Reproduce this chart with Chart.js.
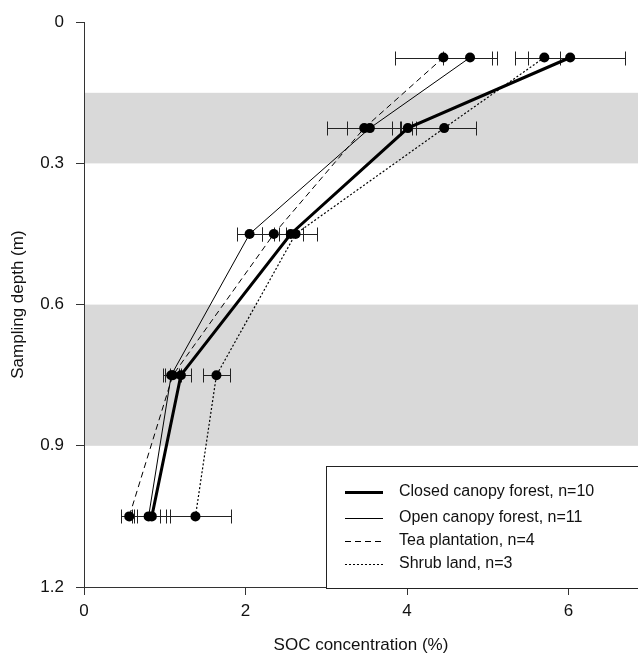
<!DOCTYPE html>
<html>
<head>
<meta charset="utf-8">
<script src="https://cdn.jsdelivr.net/npm/chart.js@4"></script>
<style>
  html, body { margin: 0; padding: 0; background: #fff; }
  #wrap { width: 638px; height: 660px; position: relative; }
</style>
</head>
<body>
<div id="wrap"><canvas id="c"></canvas></div>
<script>
// SOC concentration by sampling depth, four land uses, horizontal error bars
const depths = [0.075, 0.225, 0.45, 0.75, 1.05];

const closedMean = [6.02, 4.01, 2.56, 1.20, 0.84];
const closedErr  = [0.68, 0.10, 0.15, 0.13, 0.22];
const openMean   = [4.78, 3.54, 2.05, 1.08, 0.80];
const openErr    = [0.33, 0.28, 0.16, 0.10, 0.21];
const teaMean    = [4.45, 3.47, 2.35, 1.10, 0.56];
const teaErr     = [0.60, 0.46, 0.15, 0.10, 0.10];
const shrubMean  = [5.70, 4.46, 2.62, 1.64, 1.38];
const shrubErr   = [0.20, 0.40, 0.27, 0.17, 0.44];

const seriesLabels = ['Closed canopy forest, n=10', 'Open canopy forest, n=11', 'Tea plantation, n=4', 'Shrub land, n=3'];

const xTicks = [0, 2, 4, 6];
const yTicks = [0, 0.3, 0.6, 0.9, 1.2];
const bands = [[0.15, 0.3], [0.6, 0.9]];

const FONT = 'Arial, "Liberation Sans", sans-serif';

function pts(means) {
    return means.map((m, i) => ({ x: m, y: depths[i] }));
}

const styles = [
    { width: 3,   dash: [] },
    { width: 1,   dash: [] },
    { width: 1,   dash: [6, 4] },
    { width: 1.2, dash: [2, 2] }
];
const means = [closedMean, openMean, teaMean, shrubMean];
const errs = [closedErr, openErr, teaErr, shrubErr];

const datasets = means.map((m, k) => ({
    label: seriesLabels[k],
    data: pts(m),
    errs: errs[k],
    showLine: true,
    borderColor: '#000',
    backgroundColor: '#000',
    borderWidth: styles[k].width,
    borderDash: styles[k].dash,
    pointRadius: 5,
    pointBorderWidth: 0,
    pointBackgroundColor: '#000',
    tension: 0
}));

// gray depth bands behind the data
const bandPlugin = {
    id: 'bands',
    beforeDatasetsDraw(chart) {
        const { ctx, chartArea, scales } = chart;
        ctx.save();
        ctx.fillStyle = '#d9d9d9';
        for (const [a, b] of bands) {
            const y1 = scales.y.getPixelForValue(a);
            const y2 = scales.y.getPixelForValue(b);
            ctx.fillRect(chartArea.left + 1, y1, chart.width - chartArea.left, y2 - y1);
        }
        ctx.restore();
    }
};

// horizontal error bars with caps
const errPlugin = {
    id: 'errbars',
    beforeDatasetsDraw(chart) {
        const { ctx, scales } = chart;
        ctx.save();
        ctx.strokeStyle = '#222';
        ctx.lineWidth = 1;
        ctx.setLineDash([]);
        chart.data.datasets.forEach(ds => {
            ds.data.forEach((p, i) => {
                const y = Math.round(scales.y.getPixelForValue(p.y)) + 0.5;
                const x1 = Math.round(scales.x.getPixelForValue(p.x - ds.errs[i])) + 0.5;
                const x2 = Math.round(scales.x.getPixelForValue(p.x + ds.errs[i])) + 0.5;
                ctx.beginPath();
                ctx.moveTo(x1, y); ctx.lineTo(x2, y);
                ctx.moveTo(x1, y - 7); ctx.lineTo(x1, y + 7);
                ctx.moveTo(x2, y - 7); ctx.lineTo(x2, y + 7);
                ctx.stroke();
            });
        });
        ctx.restore();
    }
};

// boxed legend in the lower right
const legendPlugin = {
    id: 'boxLegend',
    afterDraw(chart) {
        const { ctx, chartArea } = chart;
        const right = chart.width + 2;
        const bottom = chartArea.bottom + 1;
        const left = chartArea.left + 242;
        const top = bottom - 122;
        ctx.save();
        ctx.fillStyle = '#fff';
        ctx.fillRect(left, top, right - left, bottom - top);
        ctx.strokeStyle = '#222';
        ctx.lineWidth = 1;
        ctx.setLineDash([]);
        ctx.strokeRect(left + 0.5, top + 0.5, right - left, bottom - top);
        ctx.font = '16px ' + FONT;
        ctx.textBaseline = 'middle';
        ctx.fillStyle = '#111';
        const rows = [26, 52, 75, 98];
        seriesLabels.forEach((lab, k) => {
            const y = top + rows[k];
            ctx.strokeStyle = '#000';
            ctx.lineWidth = styles[k].width;
            ctx.setLineDash(styles[k].dash);
            ctx.beginPath();
            ctx.moveTo(left + 19, y + 0.5);
            ctx.lineTo(left + 57, y + 0.5);
            ctx.stroke();
            ctx.fillText(lab, left + 73, y);
        });
        ctx.restore();
    }
};

new Chart(document.getElementById('c'), {
    type: 'scatter',
    data: { datasets },
    plugins: [bandPlugin, errPlugin, legendPlugin],
    options: {
        responsive: true,
        maintainAspectRatio: false,
        animation: false,
        layout: { autoPadding: false, padding: { top: 22, right: 0, left: 4, bottom: 0 } },
        plugins: { legend: { display: false }, tooltip: { enabled: false } },
        scales: {
            x: {
                type: 'linear',
                min: 0, max: 6.86,
                afterBuildTicks: s => { s.ticks = xTicks.map(v => ({ value: v })); },
                afterFit: s => { s.height = 73; },
                grid: { display: true, drawOnChartArea: false, drawTicks: true, tickLength: 8, color: '#333' },
                border: { display: true, color: '#333', width: 1 },
                ticks: { color: '#111', font: { size: 17, family: FONT }, padding: 6, maxRotation: 0 },
                title: { display: true, text: 'SOC concentration (%)', color: '#111', font: { size: 17, family: FONT }, padding: { top: 6 } }
            },
            y: {
                type: 'linear',
                reverse: true,
                min: 0, max: 1.2,
                afterBuildTicks: s => { s.ticks = yTicks.map(v => ({ value: v })); },
                afterFit: s => { s.width = 80; },
                grid: { display: true, drawOnChartArea: false, drawTicks: true, tickLength: 8, color: '#333' },
                border: { display: true, color: '#333', width: 1 },
                ticks: { color: '#111', font: { size: 17, family: FONT }, padding: 12, callback: v => String(v) },
                title: { display: true, text: 'Sampling depth (m)', color: '#111', font: { size: 17, family: FONT }, padding: { bottom: 4 } }
            }
        }
    }
});
</script>
</body>
</html>
